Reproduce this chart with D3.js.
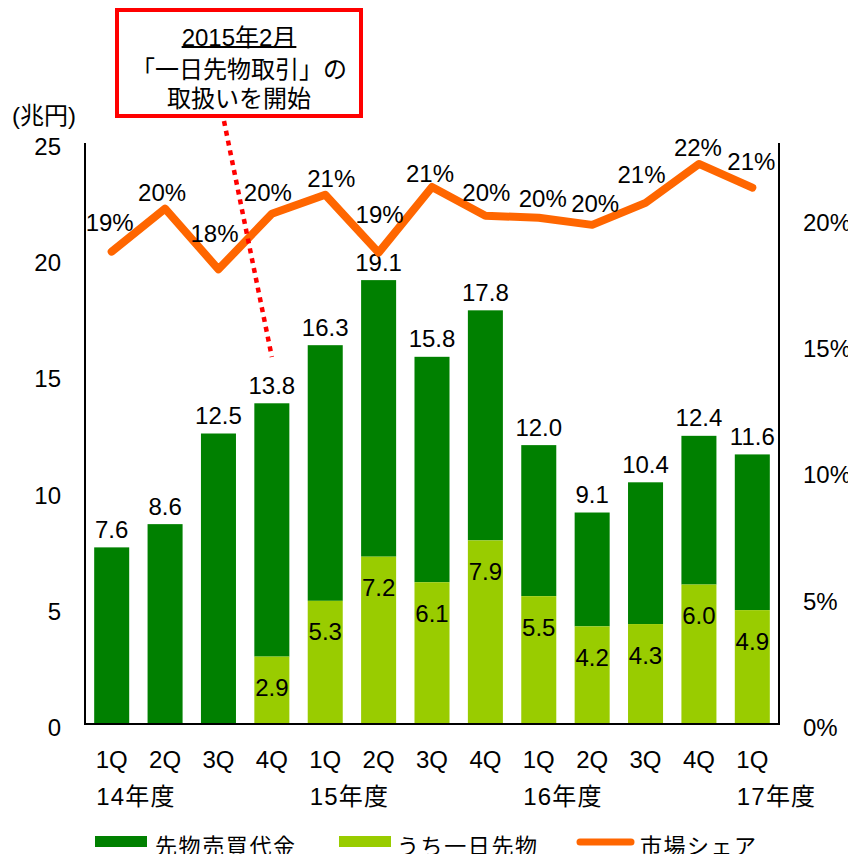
<!DOCTYPE html>
<html><head><meta charset="utf-8">
<script src="https://cdn.jsdelivr.net/npm/d3@7"></script>
<style>
html,body{margin:0;padding:0;background:#fff;}
svg{display:block;font-family:"Liberation Sans",Arial,"Noto Sans CJK JP",sans-serif;}
</style></head>
<body>
<svg id="chart" width="848" height="854"></svg>
<script>
// ---- data ----
const quarters = ["1Q","2Q","3Q","4Q","1Q","2Q","3Q","4Q","1Q","2Q","3Q","4Q","1Q"];
const fiscalYears = ["14年度","","","","15年度","","","","16年度","","","","17年度"];
const totalTrading = [7.6, 8.6, 12.5, 13.8, 16.3, 19.1, 15.8, 17.8, 12.0, 9.1, 10.4, 12.4, 11.6];
const dailyFutures = [null, null, null, 2.9, 5.3, 7.2, 6.1, 7.9, 5.5, 4.2, 4.3, 6.0, 4.9];
const marketShare = [0.187, 0.204, 0.180, 0.202, 0.2095, 0.1866, 0.2126, 0.2012, 0.2004, 0.1976, 0.2063, 0.2217, 0.2123];
const leftTicks = [0, 5, 10, 15, 20, 25];
const rightTicks = [0, 0.05, 0.10, 0.15, 0.20];
const legendLabels = ["先物売買代金", "うち一日先物", "市場シェア"];
const unitLabel = "(兆円)";
const noteLines = ["2015年2月", "「一日先物取引」の", "取扱いを開始"];

// ---- layout (label nudges for the share labels, px) ----
const shareLabelDx = [-2, -3, -4, -4, 6, 1, -2, 1, 4, 3, -4, -1, -1];
const shareLabelDy = [-29, -16, -36, -21, -16, -38, -13, -23, -19, -21, -28, -16, -26];

const C = {dark:"#008000", light:"#99CC00", orange:"#FF6600", red:"#FF0000", text:"#000"};
const FS = 24;

const svg = d3.select("#chart");
const L = 85, R = 779, T = 143, B = 724;

const idx = quarters.map((q,i)=>i);
const x = d3.scaleBand().domain(idx).range([L,R]).paddingInner(0.344).paddingOuter(0.172);
const yL = d3.scaleLinear().domain([0,25]).range([B,T]);
const yR = d3.scaleLinear().domain([0,0.23]).range([B,T]);

// bars: daily (light) bottom, rest (dark) on top
const g = svg.append("g");
g.selectAll("rect.total").data(idx).join("rect")
  .attr("x", i=>x(i)).attr("width", x.bandwidth())
  .attr("y", i=>yL(totalTrading[i]))
  .attr("height", i=>yL(dailyFutures[i]||0)-yL(totalTrading[i]))
  .attr("fill", C.dark);
g.selectAll("rect.daily").data(idx.filter(i=>dailyFutures[i]!=null)).join("rect")
  .attr("x", i=>x(i)).attr("width", x.bandwidth())
  .attr("y", i=>yL(dailyFutures[i]))
  .attr("height", i=>yL(0)-yL(dailyFutures[i]))
  .attr("fill", C.light);

// axes
const leftAxis = d3.axisLeft(yL).tickValues(leftTicks).tickSize(0).tickPadding(24);
const ga = svg.append("g").attr("transform",`translate(${L},0)`).call(leftAxis);
ga.select(".domain").attr("stroke","#000").attr("stroke-width",2).attr("d",`M0,${T}V${B}`);
ga.selectAll("text").attr("font-size",FS).attr("fill",C.text).attr("font-family",null)
  .attr("dy","0.35em").attr("transform","translate(0,3)");

const rightAxis = d3.axisRight(yR).tickValues(rightTicks).tickSize(0).tickPadding(24).tickFormat(d3.format(".0%"));
const gr = svg.append("g").attr("transform",`translate(${R},0)`).call(rightAxis);
gr.select(".domain").attr("stroke","#000").attr("stroke-width",2).attr("d",`M0,${T}V${B}`);
gr.selectAll("text").attr("font-size",FS).attr("fill",C.text).attr("font-family",null)
  .attr("dy","0.35em").attr("transform","translate(0,3)");

svg.append("line").attr("x1",L-1).attr("x2",R+1).attr("y1",B).attr("y2",B)
  .attr("stroke","#000").attr("stroke-width",2);

// category labels
const cat = svg.append("g").attr("font-size",FS).attr("fill",C.text);
cat.selectAll("text.q").data(idx).join("text").attr("class","q")
  .attr("x", i=>x(i)+x.bandwidth()/2).attr("y",759)
  .attr("text-anchor","middle").attr("dominant-baseline","central")
  .text(i=>quarters[i]);
cat.selectAll("text.fy").data(idx.filter(i=>fiscalYears[i])).join("text").attr("class","fy")
  .attr("x", i=>x(i)+x.bandwidth()/2-15.5).attr("y",796)
  .attr("letter-spacing",1.2)
  .attr("dominant-baseline","central")
  .text(i=>fiscalYears[i]);

// bar labels
const fmt1 = d3.format(".1f");
const bl = svg.append("g").attr("font-size",FS).attr("fill",C.text).attr("text-anchor","middle").attr("dominant-baseline","central");
bl.selectAll("text.t").data(idx).join("text")
  .attr("x", i=>x(i)+x.bandwidth()/2).attr("y", i=>yL(totalTrading[i])-18)
  .text(i=>fmt1(totalTrading[i]));
bl.selectAll("text.d").data(idx.filter(i=>dailyFutures[i]!=null)).join("text")
  .attr("x", i=>x(i)+x.bandwidth()/2).attr("y", i=>yL(dailyFutures[i])+31)
  .text(i=>fmt1(dailyFutures[i]));

// share line
const line = d3.line().x(i=>x(i)+x.bandwidth()/2).y(i=>yR(marketShare[i]));
svg.append("path").attr("d", line(idx)).attr("fill","none")
  .attr("stroke",C.orange).attr("stroke-width",8)
  .attr("stroke-linejoin","round").attr("stroke-linecap","round");
const fmtP = d3.format(".0%");
svg.append("g").attr("font-size",FS).attr("fill",C.text).attr("text-anchor","middle").attr("dominant-baseline","central")
  .selectAll("text").data(idx).join("text")
  .attr("x", i=>x(i)+x.bandwidth()/2+shareLabelDx[i])
  .attr("y", i=>yR(marketShare[i])+shareLabelDy[i])
  .text(i=>fmtP(marketShare[i]));

// unit label
svg.append("text").attr("x",12).attr("y",115).attr("font-size",FS).attr("fill",C.text)
  .attr("dominant-baseline","central").text(unitLabel);

// annotation box
const note = svg.append("g");
note.append("rect").attr("x",117).attr("y",10).attr("width",244).attr("height",106)
  .attr("fill","#fff").attr("stroke",C.red).attr("stroke-width",4);
const ny = [37, 69, 98];
noteLines.forEach((t,k)=>{
  const tx = note.append("text").attr("x",239).attr("y",ny[k]).attr("font-size",FS)
    .attr("fill",C.text).attr("text-anchor","middle").attr("dominant-baseline","central").text(t);
  if(k===0){
    const w = tx.node().getComputedTextLength();
    note.append("line").attr("x1",239-w/2).attr("x2",239+w/2).attr("y1",47).attr("y2",47)
      .attr("stroke",C.text).attr("stroke-width",1.8);
  }
});
svg.append("line").attr("x1",224).attr("y1",121).attr("x2",x(3)+x.bandwidth()/2).attr("y2",357)
  .attr("stroke",C.red).attr("stroke-width",4.5).attr("stroke-dasharray","5,5");

// legend
const lg = svg.append("g").attr("font-size",22).attr("fill",C.text);
lg.append("rect").attr("x",95).attr("y",836).attr("width",52).attr("height",11).attr("fill",C.dark);
lg.append("text").attr("x",155).attr("y",846).attr("dominant-baseline","central").attr("letter-spacing",1.6).text(legendLabels[0]);
lg.append("rect").attr("x",339).attr("y",836).attr("width",52).attr("height",11).attr("fill",C.light);
lg.append("text").attr("x",397).attr("y",846).attr("dominant-baseline","central").attr("letter-spacing",1.6).text(legendLabels[1]);
lg.append("line").attr("x1",580).attr("x2",631).attr("y1",842).attr("y2",842)
  .attr("stroke",C.orange).attr("stroke-width",7).attr("stroke-linecap","round");
lg.append("text").attr("x",640).attr("y",846).attr("dominant-baseline","central").attr("letter-spacing",1.5).text(legendLabels[2]);
</script>
</body></html>
